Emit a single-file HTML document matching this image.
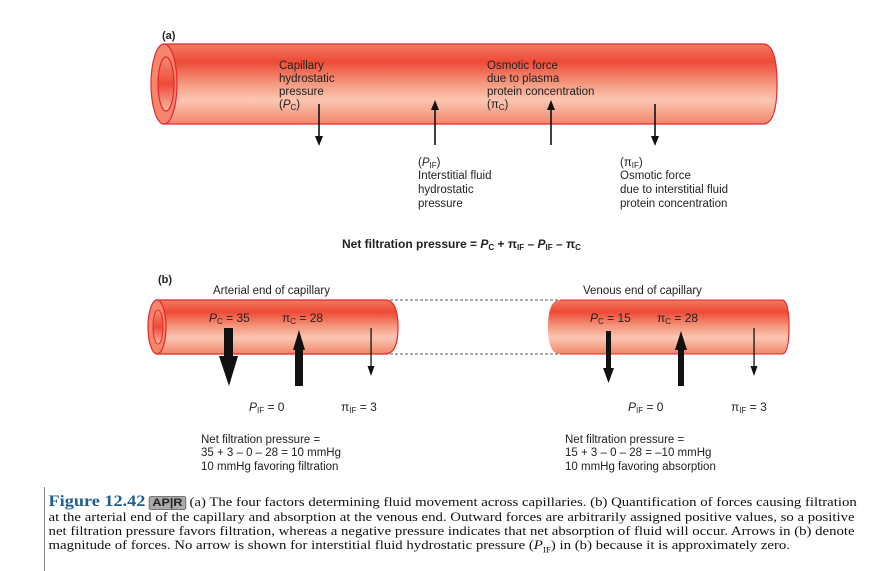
<!DOCTYPE html>
<html><head><meta charset="utf-8"><style>
body{margin:0;background:#fff;width:875px;height:571px;overflow:hidden}
svg text{font-family:"Liberation Sans",Arial,sans-serif;fill:#222}
.cap{position:absolute;left:44px;top:495px;font-family:"Liberation Serif",serif;font-size:13px;line-height:14px;color:#111;padding-left:4px;width:760px;white-space:nowrap;transform:scaleX(1.138);transform-origin:0 0}
.bar{position:absolute;left:44px;top:487px;width:1px;height:84px;background:#888}
.fig{font-weight:bold;font-size:16px;color:#1f5f8f}
.apr{display:inline-block;background:#aaa;border:1px solid #777;border-radius:2px;font-family:"Liberation Sans",sans-serif;font-weight:bold;font-size:11px;line-height:12px;padding:0 2px;color:#222}
</style></head><body>
<div class="bar"></div>
<svg width="875" height="571" style="position:absolute;left:0;top:0">
<defs>
<linearGradient id="g" x1="0" y1="0" x2="0" y2="1">
<stop offset="0" stop-color="#f27a62"/><stop offset="0.22" stop-color="#ee4a36"/>
<stop offset="0.5" stop-color="#f49a80"/><stop offset="0.7" stop-color="#fcc6b2"/>
<stop offset="1" stop-color="#f0866a"/></linearGradient>
<linearGradient id="gi" x1="0" y1="0" x2="0" y2="1">
<stop offset="0" stop-color="#f58a70"/><stop offset="0.5" stop-color="#ee4a36"/><stop offset="1" stop-color="#f9b8a2"/></linearGradient>
</defs>
<text x="162" y="39" font-size="11" font-weight="bold">(a)</text>
<path d="M164,44 H763 Q777,44 777,84 Q777,124 763,124 H164 Z" fill="url(#g)" stroke="#e8252f" stroke-width="1.2"/>
<ellipse cx="164" cy="84" rx="13" ry="40" fill="#f4866c" stroke="#e8252f" stroke-width="1.2"/>
<ellipse cx="166" cy="84" rx="8" ry="27" fill="url(#gi)" stroke="#e8252f" stroke-width="1.2"/>
<g font-size="11.5">
<text x="279" y="69">Capillary</text><text x="279" y="82">hydrostatic</text><text x="279" y="95">pressure</text><text x="279" y="108">(<tspan font-style="italic">P</tspan><tspan font-size="8" dy="2">C</tspan><tspan dy="-2">)</tspan></text>
<text x="487" y="69">Osmotic force</text><text x="487" y="82">due to plasma</text><text x="487" y="95">protein concentration</text><text x="487" y="108">(π<tspan font-size="8" dy="2">C</tspan><tspan dy="-2">)</tspan></text>
<text x="418" y="166">(<tspan font-style="italic">P</tspan><tspan font-size="8" dy="2">IF</tspan><tspan dy="-2">)</tspan></text><text x="418" y="179">Interstitial fluid</text><text x="418" y="193">hydrostatic</text><text x="418" y="207">pressure</text>
<text x="620" y="166">(π<tspan font-size="8" dy="2">IF</tspan><tspan dy="-2">)</tspan></text><text x="620" y="179">Osmotic force</text><text x="620" y="193">due to interstitial fluid</text><text x="620" y="207">protein concentration</text>
</g>
<g stroke="#111" stroke-width="1.6">
<line x1="319" y1="104" x2="319" y2="138"/>
<line x1="435" y1="145" x2="435" y2="108"/>
<line x1="551" y1="145" x2="551" y2="108"/>
<line x1="655" y1="104" x2="655" y2="138"/>
</g>
<g fill="#111">
<path d="M315,136 L323,136 L319,146 Z"/>
<path d="M431,110 L439,110 L435,100 Z"/>
<path d="M547,110 L555,110 L551,100 Z"/>
<path d="M651,136 L659,136 L655,146 Z"/>
</g>
<text x="342" y="248" font-size="12" font-weight="bold">Net filtration pressure = <tspan font-style="italic">P</tspan><tspan font-size="8" dy="2">C</tspan><tspan dy="-2"> + π</tspan><tspan font-size="8" dy="2">IF</tspan><tspan dy="-2"> – </tspan><tspan font-style="italic">P</tspan><tspan font-size="8" dy="2">IF</tspan><tspan dy="-2"> – π</tspan><tspan font-size="8" dy="2">C</tspan></text>
<text x="158" y="283" font-size="11" font-weight="bold">(b)</text>
<text x="213" y="294" font-size="11.5">Arterial end of capillary</text>
<text x="583" y="294" font-size="11.5">Venous end of capillary</text>
<line x1="385" y1="300" x2="560" y2="300" stroke="#222" stroke-dasharray="3,2" stroke-width="0.8"/>
<line x1="385" y1="354" x2="560" y2="354" stroke="#222" stroke-dasharray="3,2" stroke-width="0.8"/>
<path d="M157,300 H385 Q398,300 398,327 Q398,354 385,354 H157 Z" fill="url(#g)" stroke="#e8252f" stroke-width="1.2"/>
<ellipse cx="157" cy="327" rx="9" ry="27" fill="#f4866c" stroke="#e8252f" stroke-width="1.2"/>
<ellipse cx="158" cy="327" rx="5" ry="17" fill="url(#gi)" stroke="#e8252f" stroke-width="1"/>
<path d="M560,300 H782 V354 H560 Q548,354 548,327 Q548,300 560,300 Z" fill="url(#g)"/>
<path d="M560,300 H782 M782,354 H560" stroke="#e8252f" stroke-width="1"/>
<path d="M782,300 Q789,300 789,327 Q789,354 782,354" fill="url(#g)" stroke="#e8252f" stroke-width="1.2"/>
<g font-size="12">
<text x="209" y="322"><tspan font-style="italic">P</tspan><tspan font-size="8" dy="2">C</tspan><tspan dy="-2"> = 35</tspan></text>
<text x="282" y="322">π<tspan font-size="8" dy="2">C</tspan><tspan dy="-2"> = 28</tspan></text>
<text x="590" y="322"><tspan font-style="italic">P</tspan><tspan font-size="8" dy="2">C</tspan><tspan dy="-2"> = 15</tspan></text>
<text x="657" y="322">π<tspan font-size="8" dy="2">C</tspan><tspan dy="-2"> = 28</tspan></text>
<text x="249" y="411"><tspan font-style="italic">P</tspan><tspan font-size="8" dy="2">IF</tspan><tspan dy="-2"> = 0</tspan></text>
<text x="341" y="411">π<tspan font-size="8" dy="2">IF</tspan><tspan dy="-2"> = 3</tspan></text>
<text x="628" y="411"><tspan font-style="italic">P</tspan><tspan font-size="8" dy="2">IF</tspan><tspan dy="-2"> = 0</tspan></text>
<text x="731" y="411">π<tspan font-size="8" dy="2">IF</tspan><tspan dy="-2"> = 3</tspan></text>
</g>
<g fill="#111">
<rect x="224" y="328" width="9" height="30"/><path d="M219,356 L238,356 L229,386 Z"/>
<rect x="295" y="348" width="8" height="38"/><path d="M293,350 L305,350 L299,330 Z"/>
<rect x="606" y="331" width="5" height="40"/><path d="M603,368 L614,368 L608.5,383 Z"/>
<rect x="678" y="348" width="6" height="38"/><path d="M675,350 L687,350 L681,331 Z"/>
<rect x="370.4" y="328" width="1.3" height="40"/><path d="M367.5,366 L374.5,366 L371,376 Z"/>
<rect x="753.4" y="328" width="1.3" height="40"/><path d="M750.5,366 L757.5,366 L754,376 Z"/>
</g>
<g font-size="11.5">
<text x="201" y="443">Net filtration pressure =</text><text x="201" y="456">35 + 3 – 0 – 28 = 10 mmHg</text><text x="201" y="470">10 mmHg favoring filtration</text>
<text x="565" y="443">Net filtration pressure =</text><text x="565" y="456">15 + 3 – 0 – 28 = –10 mmHg</text><text x="565" y="470">10 mmHg favoring absorption</text>
</g>
</svg>
<div class="cap"><span class="fig">Figure 12.42</span> <span class="apr">AP|R</span> (a) The four factors determining fluid movement across capillaries. (b) Quantification of forces causing filtration<br>at the arterial end of the capillary and absorption at the venous end. Outward forces are arbitrarily assigned positive values, so a positive<br>net filtration pressure favors filtration, whereas a negative pressure indicates that net absorption of fluid will occur. Arrows in (b) denote<br>magnitude of forces. No arrow is shown for interstitial fluid hydrostatic pressure (<i>P</i><sub style="font-size:8px;line-height:0">IF</sub>) in (b) because it is approximately zero.</div>
</body></html>
